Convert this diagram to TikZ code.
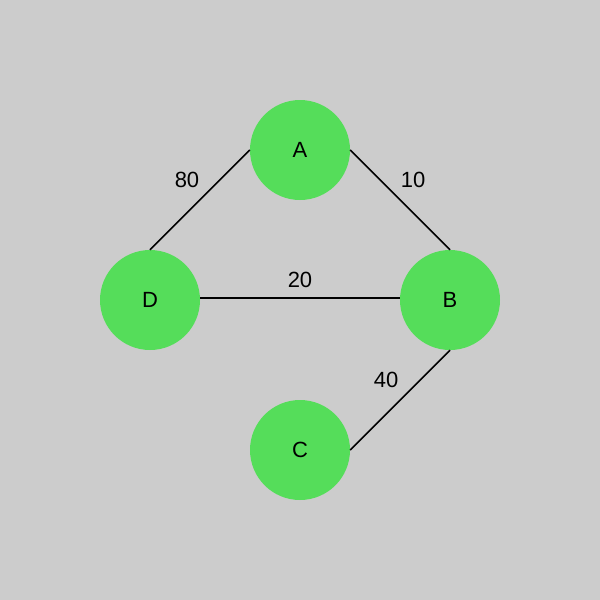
\documentclass[tikz,border=0pt]{standalone}
\usepackage{fontspec}
\setmainfont{Liberation Sans}
\definecolor{bg}{HTML}{CCCCCC}
\definecolor{nodegreen}{HTML}{55DD5A}
\begin{document}
\begin{tikzpicture}[x=1pt,y=-1pt,
  vertex/.style={circle,fill=nodegreen,minimum size=100pt,inner sep=0pt,font=\fontsize{22}{26}\selectfont},
  edge/.style={line width=1.5pt,black},
  wlabel/.style={font=\fontsize{22}{26}\selectfont}]
\fill[bg] (0,0) rectangle (600,600);
\useasboundingbox (0,0) rectangle (600,600);
\node[vertex] (A) at (300,150) {A};
\node[vertex] (B) at (450,300) {B};
\node[vertex] (C) at (300,450) {C};
\node[vertex] (D) at (150,300) {D};
\draw[edge] (A.west) -- (D.north);
\draw[edge] (A.east) -- (B.north);
\draw[edge] ([yshift=2pt]D.east) -- ([yshift=2pt]B.west);
\draw[edge] (B.south) -- (C.east);
\node[wlabel] (l80) at (187,180) {80};
\node[wlabel] (l10) at (413,180) {10};
\node[wlabel] (l20) at (300,280) {20};
\node[wlabel] (l40) at (386,380) {40};
\end{tikzpicture}
\end{document}
